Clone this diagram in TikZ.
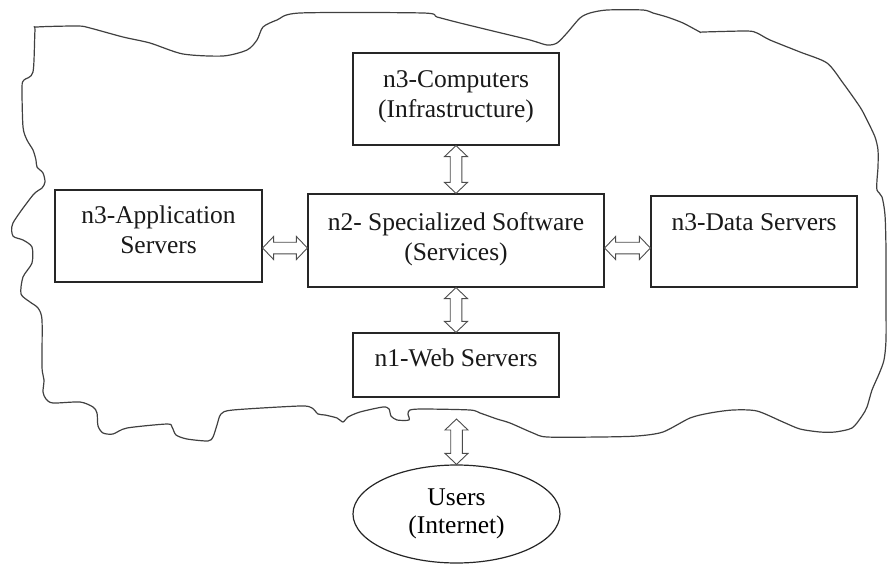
\documentclass[tikz,border=0pt]{standalone}
\usepackage{fontspec}
\setmainfont{Liberation Serif}
\usetikzlibrary{calc,shapes.geometric}

\tikzset{
  box/.style={draw=black!85, line width=1.2pt, fill=white, rectangle, inner sep=0pt},
  lbl/.style={font=\fontsize{25.5}{30}\selectfont, align=center, inner sep=0pt,
              anchor=north, text=black!90},
  cloudline/.style={draw=black!75, line width=1.2pt, line join=round},
  % hollow double-headed block arrow between two points
  dbl/.style={draw=black!70, line width=0.9pt, fill=white, line join=miter,
    to path={
      -- ($(\tikztostart)!11pt!(\tikztotarget)!11.5pt!90:(\tikztotarget)$)
      -- ($(\tikztostart)!11pt!(\tikztotarget)!5.8pt!90:(\tikztotarget)$)
      -- ($(\tikztotarget)!11pt!(\tikztostart)!5.8pt!-90:(\tikztostart)$)
      -- ($(\tikztotarget)!11pt!(\tikztostart)!11.5pt!-90:(\tikztostart)$)
      -- (\tikztotarget)
      -- ($(\tikztotarget)!11pt!(\tikztostart)!11.5pt!90:(\tikztostart)$)
      -- ($(\tikztotarget)!11pt!(\tikztostart)!5.8pt!90:(\tikztostart)$)
      -- ($(\tikztostart)!11pt!(\tikztotarget)!5.8pt!-90:(\tikztotarget)$)
      -- ($(\tikztostart)!11pt!(\tikztotarget)!11.5pt!-90:(\tikztotarget)$)
      -- cycle}},
}

\begin{document}
\begin{tikzpicture}[x=1pt,y=-1pt]
\useasboundingbox (0,0) rectangle (887,570);

% cloud outline
\draw[cloudline] plot[smooth cycle, tension=0.45] coordinates {
 (37,27) (78,26) (90,28) (123,37) (150,43) (183,54) (223,56) (247,50) (257,40)
 (263,27) (277,20) (300,13) (423,13) (437,17) (460,23) (497,32) (530,40) (547,45)
 (557,43) (567,33) (580,18) (590,13) (607,10) (643,10) (653,13) (667,17) (683,23)
 (700,32) (703,32) (747,31) (757,33) (770,40) (800,52) (827,63) (843,83) (860,107)
 (867,120) (875,137) (878,150) (878,167) (877,180) (877,190) (882,197) (885,215)
 (886,250) (886,300) (886,340) (884,360) (879,374) (872,390) (867,407) (862,416)
 (852,428) (835,432) (820,432) (800,429) (783,422) (757,411) (733,410) (710,413)
 (690,418) (663,432) (637,436) (600,437) (547,437) (533,433) (510,423) (497,419)
 (480,413) (470,410) (423,409) (410,410) (408,414) (409,420) (397,420) (391,416)
 (389,409) (383,407) (360,412) (348,417) (343,422) (337,418) (325,415) (318,414)
 (312,408) (300,406) (233,410) (221,414) (217,425) (213,437) (208,441) (187,439)
 (176,435) (172,427) (167,424) (127,428) (113,434) (103,433) (98,426) (97,413)
 (93,407) (80,402) (53,403) (46,399) (43,392) (44,380) (42,367) (42,320) (38,308)
 (30,302) (21,294) (23,277) (32,263) (32,247) (23,240) (13,236) (13,223) (33,195)
 (42,188) (45,182) (43,173) (37,167) (36,160) (33,150) (27,140) (23,127) (22,87)
 (24,80) (33,72) (35,30)};

% boxes
\node[box, minimum width=206pt, minimum height=92pt] (comp) at (456,99) {};
\node[box, minimum width=207pt, minimum height=92pt] (app)  at (158.5,236) {};
\node[box, minimum width=296pt, minimum height=93pt] (cen)  at (456,240.5) {};
\node[box, minimum width=206pt, minimum height=91pt] (data) at (754,241.5) {};
\node[box, minimum width=206pt, minimum height=64pt] (web)  at (456,365) {};
\node[ellipse, draw=black!85, line width=1.2pt, minimum width=207pt, minimum height=98pt,
      inner sep=0pt, font=\fontsize{25.5}{28}\selectfont, align=center] (users)
      at (456.5,514) {Users\\(Internet)};

% box labels
\node[lbl] (compt) at ([yshift=-18.5pt]comp.north) {n3-Computers\\(Infrastructure)};
\node[lbl] (appt)  at ([yshift=-16pt]app.north) {n3-Application\\Servers};
\node[lbl] (cent)  at ([yshift=-19pt]cen.north) {n2- Specialized Software\\(Services)};
\node[lbl] (datat) at ([yshift=-18.5pt]data.north) {n3-Data Servers};
\node[lbl] (webt)  at ([yshift=-16.5pt]web.north) {n1-Web Servers};

% connectors
\coordinate (hy) at (0,248);
\coordinate (gap) at (456.5,419);
\draw[dbl] (comp.south) to (cen.north);
\draw[dbl] (cen.south) to (web.north);
\draw[dbl] (app.east |- hy) to (cen.west |- hy);
\draw[dbl] (cen.east |- hy) to (data.west |- hy);
\draw[dbl] (gap) to (users.north);
\end{tikzpicture}
\end{document}
